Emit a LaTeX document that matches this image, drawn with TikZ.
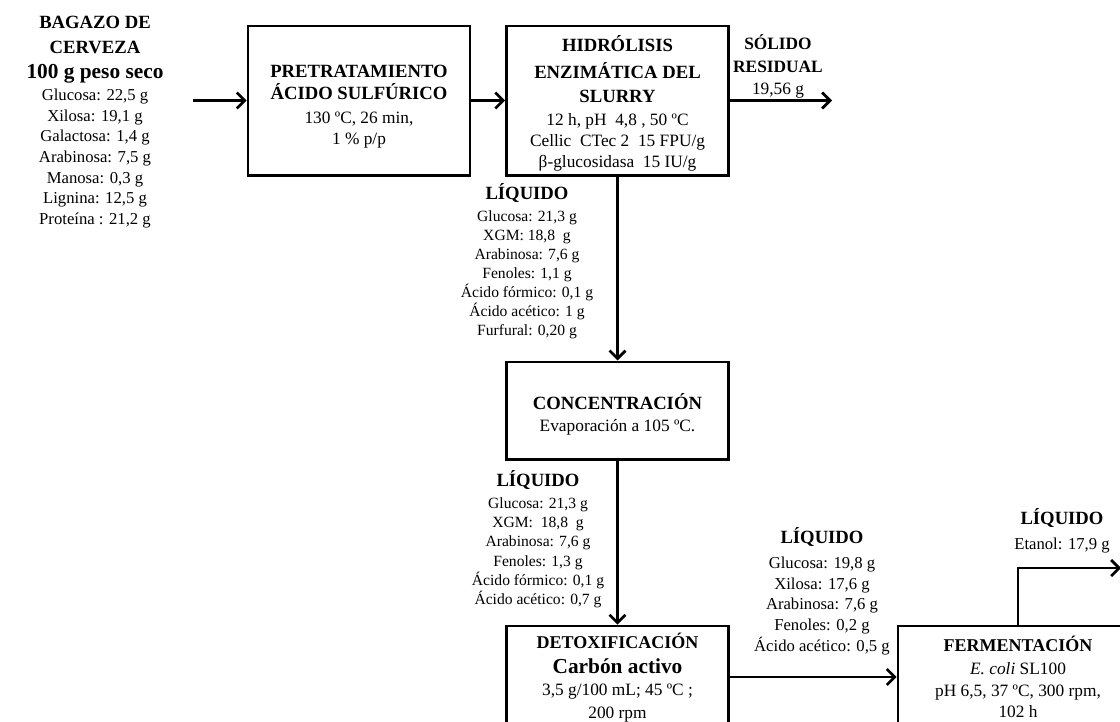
\documentclass[tikz,border=0pt]{standalone}
\usepackage{fontspec}
\setmainfont{Liberation Serif}
\usetikzlibrary{arrows.meta}
\tikzset{
  pbox/.style={draw,line width=2pt,minimum width=#1,inner sep=0pt},
  ptxt/.style={align=center,inner sep=0pt,font=\fontsize{13}{15.4}\selectfont},
  flow/.style={-{Straight Barb[length=6pt,width=12pt]},line width=2pt},
  dat/.style={align=center,inner sep=0pt,font=\fontsize{12.5}{15.5}\selectfont},
  datsm/.style={dat,font=\fontsize{11.7}{14.3}\selectfont},
}
\newcommand\encab[2][14]{{\fontsize{#1}{#1}\selectfont\bfseries #2}}

\begin{document}
\begin{tikzpicture}[x=0.75pt,y=-0.75pt]
\useasboundingbox (0,0) rectangle (1120,721);
\clip (0,0) rectangle (1120,721);

% process boxes
\node[pbox=166.5pt,minimum height=112pt] (pret) at (359,100.5) {};
\node[pbox=166.5pt,minimum height=112pt] (hidr) at (617.5,100.5) {};
\node[pbox=166.5pt,minimum height=73pt] (conc) at (617.5,410.5) {};
\node[pbox=166.5pt,minimum height=76.5pt] (detox) at (617.5,677) {};
\node[pbox=180pt,minimum height=76.5pt] (ferm) at (1018,677) {};

% box texts
\node[ptxt] (prettxt) at (359,106.5)
  {\encab{PRETRATAMIENTO}\\[1pt] \encab{ÁCIDO SULFÚRICO}\\[3.3pt] 130 ºC, 26 min,\\ 1 \% p/p};
\node[ptxt] (hidrtxt) at (617.5,103)
  {\encab{HIDRÓLISIS}\\[5pt] \encab{ENZIMÁTICA DEL}\\[2.6pt] \encab{SLURRY}\\[1.8pt]
   12 h, pH\ \ 4,8 , 50 ºC\\[0.4pt] Cellic\ \ CTec 2\ \ 15 FPU/g\\ β-glucosidasa\ \ 15 IU/g};
\node[ptxt] (conctxt) at (617.5,414)
  {\encab{CONCENTRACIÓN}\\[1pt] Evaporación a 105 ºC.};
\node[ptxt] (detoxtxt) at (617.5,677.5)
  {\encab[13.5]{DETOXIFICACIÓN}\\[3.3pt] \encab[16]{Carbón activo}\\[1pt] 3,5 g/100 mL; 45 ºC ;\\[2pt] 200 rpm};
\node[ptxt] (fermtxt) at (1018,677)
  {\encab[13.5]{FERMENTACIÓN}\\[1.8pt] \textit{E. coli} SL100\\[1pt] pH 6,5, 37 ºC, 300 rpm,\\ 102 h};

% stream data
\node[dat] (bagazo) at (95,122)
  {\encab{BAGAZO DE}\\[3.3pt] \encab{CERVEZA}\\[3.3pt] \encab[16]{100 g peso seco}\\[1pt]
   Glucosa: 22,5 g\\ Xilosa: 19,1 g\\ Galactosa: 1,4 g\\ Arabinosa: 7,5 g\\
   Manosa: 0,3 g\\ Lignina: 12,5 g\\ Proteína : 21,2 g};
\node[dat,font=\fontsize{13}{15.5}\selectfont] (solido) at (778,66)
  {\encab[13]{SÓLIDO}\\[1.7pt] \encab[13]{RESIDUAL}\\[1pt] 19,56 g};
\node[datsm] (liq1) at (527,261)
  {\encab{LÍQUIDO}\\[2.2pt] Glucosa: 21,3 g\\ XGM: 18,8\ \ g\\ Arabinosa: 7,6 g\\ Fenoles: 1,1 g\\
   Ácido fórmico: 0,1 g\\ Ácido acético: 1 g\\ Furfural: 0,20 g};
\node[datsm] (liq2) at (538,539)
  {\encab{LÍQUIDO}\\[2.5pt] Glucosa: 21,3 g\\ XGM:\ \ 18,8\ \ g\\ Arabinosa: 7,6 g\\ Fenoles: 1,3 g\\
   Ácido fórmico: 0,1 g\\ Ácido acético: 0,7 g};
\node[dat] (liq3) at (822,591)
  {\encab{LÍQUIDO}\\[3.3pt] Glucosa: 19,8 g\\ Xilosa: 17,6 g\\ Arabinosa: 7,6 g\\ Fenoles: 0,2 g\\
   Ácido acético: 0,5 g};
\node[dat] (liq4) at (1062,531)
  {\encab{LÍQUIDO}\\[3.3pt] Etanol: 17,9 g};

% free ends
\coordinate (entrada) at (193,100.5);
\coordinate (salsol) at (832,100.5);
\coordinate (saletanol) at (1121,568);

\draw[flow] (entrada) -- (pret);
\draw[flow] (pret) -- (hidr);
\draw[flow] (hidr) -- (salsol);
\draw[flow] (hidr) -- (conc);
\draw[flow] (conc) -- (detox);
\draw[flow] (detox) -- (ferm);
\draw[flow] (ferm.north) |- (saletanol);
\end{tikzpicture}
\end{document}
